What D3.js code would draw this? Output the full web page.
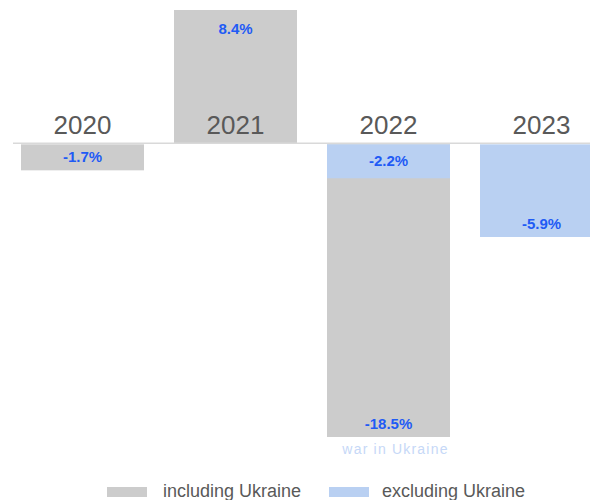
<!DOCTYPE html>
<html>
<head>
<meta charset="utf-8">
<script src="https://cdn.jsdelivr.net/npm/d3@7"></script>
<style>
  body { margin: 0; background: #fff; }
  svg { display: block; font-family: Arial, "Liberation Sans", sans-serif; }
</style>
</head>
<body>
<svg id="chart" width="590" height="500"></svg>
<script>
// data
const years = ["2020", "2021", "2022", "2023"];
const includingUkraine = [-1.7, 8.4, -18.5, null];
const excludingUkraine = [null, null, -2.2, -5.9];
const seriesNames = ["including Ukraine", "excluding Ukraine"];
const noteText = "war in Ukraine";
const noteYear = "2022";

const svg = d3.select("#chart");
const colors = ["#cccccc", "#b9d0f2"];
const labelColor = "#1f5bf5";

const x = d3.scaleBand()
    .domain(years)
    .range([6, 618])
    .paddingInner(0.196)
    .paddingOuter(0.098);

const y = d3.scaleLinear()
    .domain([-18.5, 8.4])
    .range([437, 10]);

// bars, gray first then blue on top
const series = [includingUkraine, excludingUkraine];
series.forEach((vals, si) => {
  const rows = years.map((yr, i) => ({year: yr, v: vals[i]})).filter(d => d.v != null);
  svg.append("g").selectAll("rect")
    .data(rows)
    .enter().append("rect")
      .attr("x", d => x(d.year))
      .attr("width", x.bandwidth())
      .attr("y", d => d.v >= 0 ? y(d.v) : y(0) + 1)
      .attr("height", d => Math.abs(y(d.v) - y(0)) - (d.v < 0 ? 1 : 0))
      .attr("fill", colors[si]);
});

// zero line
svg.append("line")
    .attr("x1", 13).attr("x2", 590)
    .attr("y1", y(0)).attr("y2", y(0))
    .attr("stroke", "#d9d9d9")
    .attr("stroke-width", 1.5);

// year labels
svg.append("g").selectAll("text")
  .data(years)
  .enter().append("text")
    .attr("x", d => x(d) + x.bandwidth() / 2)
    .attr("y", y(0) - 9)
    .attr("text-anchor", "middle")
    .attr("font-size", 26)
    .attr("fill", "#595959")
    .text(d => d);

// value labels
function labelY(v) {
  const h = Math.abs(y(v) - y(0));
  if (h < 40) return (y(v) + y(0)) / 2 + 5;
  return v >= 0 ? y(v) + 24 : y(v) - 8;
}
series.forEach(vals => {
  const rows = years.map((yr, i) => ({year: yr, v: vals[i]})).filter(d => d.v != null);
  svg.append("g").selectAll("text")
    .data(rows)
    .enter().append("text")
      .attr("x", d => x(d.year) + x.bandwidth() / 2)
      .attr("y", d => labelY(d.v))
      .attr("text-anchor", "middle")
      .attr("font-size", 15)
      .attr("font-weight", "bold")
      .attr("fill", labelColor)
      .text(d => d.v.toFixed(1) + "%");
});

// note under the 2022 bar
svg.append("text")
    .attr("x", x(noteYear) + x.bandwidth() / 2 + 7)
    .attr("y", y(-18.5) + 17)
    .attr("text-anchor", "middle")
    .attr("font-size", 14)
    .attr("letter-spacing", 1.2)
    .attr("fill", "#c6d8f7")
    .text(noteText);

// legend
const legendX = [107, 329];
const legend = svg.append("g").selectAll("g")
  .data(seriesNames)
  .enter().append("g")
    .attr("transform", (d, i) => "translate(" + legendX[i] + ",487)");
legend.append("rect")
    .attr("width", 40).attr("height", 10)
    .attr("fill", (d, i) => colors[i]);
legend.append("text")
    .attr("x", (d, i) => i === 0 ? 56 : 53).attr("y", 10)
    .attr("font-size", 18)
    .attr("fill", "#595959")
    .text(d => d);
</script>
</body>
</html>
